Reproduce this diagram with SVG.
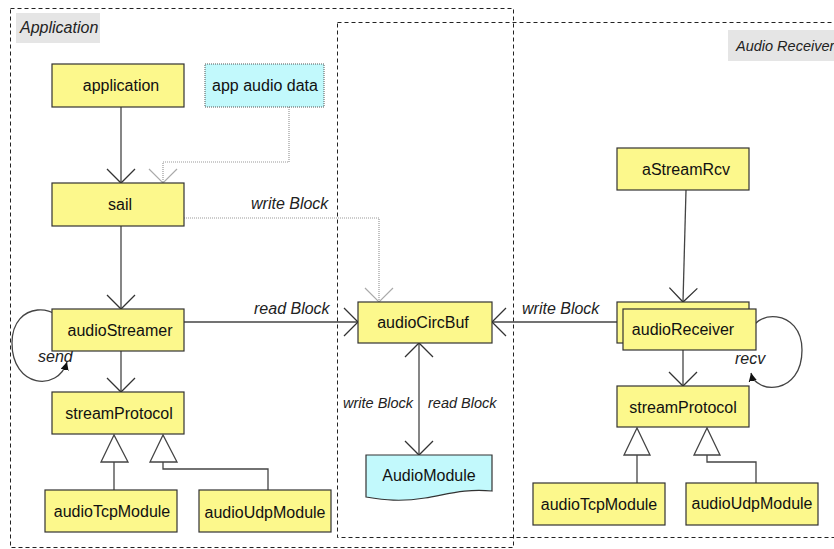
<svg xmlns="http://www.w3.org/2000/svg" width="834" height="549" viewBox="0 0 834 549">
  <style>
    .frame { fill: none; stroke: #222; stroke-width: 1; stroke-dasharray: 4 3; }
    .tag { fill: #e5e5e5; }
    .box { fill: #fcf88c; stroke: #333; stroke-width: 1.2; }
    .data { fill: #c2f9fc; stroke: #555; stroke-width: 1; stroke-dasharray: 1 1; }
    .doc { fill: #c2f9fc; stroke: #333; stroke-width: 1.2; }
    .t { font-family: "Liberation Sans", Arial, sans-serif; font-size: 16px; fill: #111; text-anchor: middle; }
    .it { font-family: "Liberation Sans", Arial, sans-serif; font-size: 16px; font-style: italic; fill: #222; }
    .sm { font-size: 14.5px; }
    .ln { fill: none; stroke: #444; stroke-width: 1.3; }
    .dot { fill: none; stroke: #999; stroke-width: 1.2; stroke-dasharray: 1 1; }
    .gen { fill: #fff; stroke: #444; stroke-width: 1.3; }
  </style>
  <defs>
    <marker id="open" markerUnits="userSpaceOnUse" markerWidth="34" markerHeight="34" viewBox="-17 -17 34 34" refX="0" refY="0" orient="auto-start-reverse">
      <path d="M-14,-14 L0,0 L-14,14" fill="none" stroke="#333" stroke-width="1.3"/>
    </marker>
    <marker id="openGrey" markerUnits="userSpaceOnUse" markerWidth="34" markerHeight="34" viewBox="-17 -17 34 34" refX="0" refY="0" orient="auto">
      <path d="M-14,-14 L0,0 L-14,14" fill="none" stroke="#aaa" stroke-width="1.2"/>
    </marker>
    <marker id="solid" markerUnits="userSpaceOnUse" markerWidth="16" markerHeight="16" viewBox="-8 -8 16 16" refX="0" refY="0" orient="auto">
      <path d="M-10,-5 L0,0 L-10,5 Z" fill="#111"/>
    </marker>
  </defs>

  <!-- frames -->
  <g id="frame-application">
    <rect class="frame" x="10.5" y="8.5" width="503" height="539"/>
    <rect class="tag" x="16" y="13" width="84" height="30"/>
    <text class="it" x="20" y="33">Application</text>
  </g>
  <g id="frame-receiver">
    <rect class="frame" x="337.5" y="22.5" width="520" height="515"/>
    <rect class="tag" x="728" y="30" width="110" height="31"/>
    <text class="it sm" x="736" y="51">Audio Receiver</text>
  </g>

  <!-- connectors -->
  <g id="connectors">
    <line class="ln" x1="121" y1="107" x2="121" y2="183" marker-end="url(#open)"/>
    <line class="ln" x1="121" y1="226" x2="121" y2="309" marker-end="url(#open)"/>
    <line class="ln" x1="121" y1="351" x2="121" y2="392" marker-end="url(#open)"/>
    <!-- app audio data to sail, and write Block to audioCircBuf -->
    <path class="dot" d="M289,107 V162 H163 V183" marker-end="url(#openGrey)"/>
    <path class="dot" d="M163,183 V218 H379 V302" marker-end="url(#openGrey)"/>
    <text class="it" x="251" y="209">write Block</text>
    <!-- read Block -->
    <line class="ln" x1="184" y1="322" x2="358" y2="322" marker-end="url(#open)"/>
    <text class="it" x="254" y="314">read Block</text>
    <!-- send loop -->
    <path class="ln" d="M66,331 C62,302 12,300 12,343 C12,388 58,392 67,362" marker-end="url(#solid)"/>
    <text class="it" x="38" y="362">send</text>
    <!-- generalisation, left -->
    <line class="ln" x1="114" y1="462" x2="114" y2="490"/>
    <path class="ln" d="M268,490 V469 H163 V462"/>
    <polygon class="gen" points="114,435 101,462 128,462"/>
    <polygon class="gen" points="163,435 150,462 177,462"/>
    <!-- audioCircBuf <-> AudioModule -->
    <line class="ln" x1="419" y1="343" x2="419" y2="455" marker-start="url(#open)" marker-end="url(#open)"/>
    <text class="it sm" x="343" y="408">write Block</text>
    <text class="it sm" x="428" y="408">read Block</text>
    <!-- receiver write Block -->
    <line class="ln" x1="617" y1="322" x2="492" y2="322" marker-end="url(#open)"/>
    <text class="it" x="522" y="314">write Block</text>
    <line class="ln" x1="686" y1="190" x2="683" y2="302" marker-end="url(#open)"/>
    <line class="ln" x1="683" y1="350" x2="683" y2="386" marker-end="url(#open)"/>
    <!-- recv loop -->
    <path class="ln" d="M749,337 C752,308 802,308 802,350 C802,395 756,395 751,373" marker-end="url(#solid)"/>
    <text class="it" x="735" y="364">recv</text>
    <!-- generalisation, right -->
    <line class="ln" x1="637" y1="455" x2="637" y2="483"/>
    <path class="ln" d="M756,483 V462 H707 V455"/>
    <polygon class="gen" points="637,428 624,455 650,455"/>
    <polygon class="gen" points="707,428 694,455 720,455"/>
  </g>

  <!-- nodes -->
  <g id="application">
    <rect class="box" x="52" y="64" width="132" height="43"/>
    <text class="t" x="121" y="91">application</text>
  </g>
  <g id="app-audio-data">
    <rect class="data" x="205" y="64" width="119" height="43"/>
    <text class="t" x="265" y="91">app audio data</text>
  </g>
  <g id="sail">
    <rect class="box" x="52" y="183" width="132" height="43"/>
    <text class="t" x="120" y="210">sail</text>
  </g>
  <g id="audioStreamer">
    <rect class="box" x="52" y="309" width="132" height="42"/>
    <text class="t" x="120" y="336">audioStreamer</text>
  </g>
  <g id="streamProtocol-app">
    <rect class="box" x="52" y="392" width="132" height="42"/>
    <text class="t" x="119" y="419">streamProtocol</text>
  </g>
  <g id="audioTcpModule-app">
    <rect class="box" x="45" y="490" width="132" height="42"/>
    <text class="t" x="112" y="517">audioTcpModule</text>
  </g>
  <g id="audioUdpModule-app">
    <rect class="box" x="199" y="490" width="132" height="42"/>
    <text class="t" x="265" y="518">audioUdpModule</text>
  </g>
  <g id="audioCircBuf">
    <rect class="box" x="358" y="302" width="134" height="41"/>
    <text class="t" x="423" y="328">audioCircBuf</text>
  </g>
  <g id="AudioModule">
    <path class="doc" d="M366,455 H492 V491 C465,488 445,495 425,498 C400,502 385,500 366,497 Z"/>
    <text class="t" x="429" y="481">AudioModule</text>
  </g>
  <g id="aStreamRcv">
    <rect class="box" x="617" y="148" width="132" height="42"/>
    <text class="t" x="686" y="175">aStreamRcv</text>
  </g>
  <g id="audioReceiver">
    <rect class="box" x="617" y="302" width="132" height="41"/>
    <rect class="box" x="623" y="309" width="133" height="41"/>
    <text class="t" x="683" y="335">audioReceiver</text>
  </g>
  <g id="streamProtocol-rcv">
    <rect class="box" x="617" y="386" width="132" height="41"/>
    <text class="t" x="683" y="413">streamProtocol</text>
  </g>
  <g id="audioTcpModule-rcv">
    <rect class="box" x="533" y="483" width="132" height="42"/>
    <text class="t" x="599" y="510">audioTcpModule</text>
  </g>
  <g id="audioUdpModule-rcv">
    <rect class="box" x="686" y="483" width="132" height="42"/>
    <text class="t" x="752" y="509">audioUdpModule</text>
  </g>
</svg>
